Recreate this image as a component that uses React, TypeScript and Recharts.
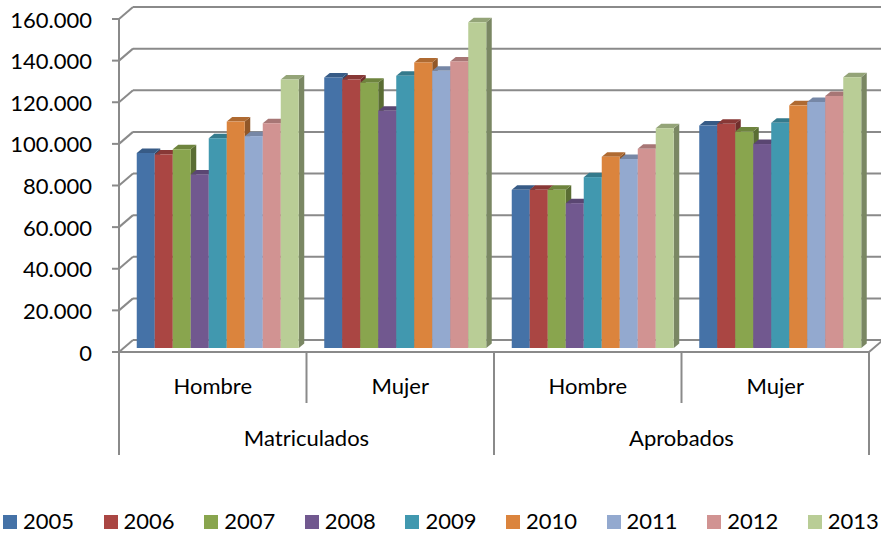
import React from 'react';
import { BarChart, Bar, XAxis, YAxis, CartesianGrid, Legend } from 'recharts';

const subCategories = ['Hombre', 'Mujer', 'Hombre', 'Mujer'];
const groupLabels = ['Matriculados', 'Aprobados'];
const years = ['2005', '2006', '2007', '2008', '2009', '2010', '2011', '2012', '2013'];

// values per year: [Matriculados Hombre, Matriculados Mujer, Aprobados Hombre, Aprobados Mujer]
const v2005 = [93700, 130000, 76000, 106900];
const v2006 = [93000, 129000, 76000, 107700];
const v2007 = [95500, 127500, 76000, 104000];
const v2008 = [83400, 114000, 69600, 98000];
const v2009 = [100800, 130800, 82100, 108200];
const v2010 = [108800, 137200, 91900, 116600];
const v2011 = [101800, 133200, 90800, 118200];
const v2012 = [108000, 137700, 95700, 121100];
const v2013 = [129000, 156500, 105600, 130100];
const seriesValues = [v2005, v2006, v2007, v2008, v2009, v2010, v2011, v2012, v2013];

const colors = ['#4572A7', '#AA4643', '#89A54E', '#71588F', '#4198AF', '#DB843D', '#93A9CF', '#D19392', '#B9CD96'];
const yTicks = [0, 20000, 40000, 60000, 80000, 100000, 120000, 140000, 160000];

const data = subCategories.map((sub, i) => {
  const row: Record<string, any> = { sub };
  years.forEach((yr, s) => {
    row[yr] = seriesValues[s][i];
  });
  return row;
});

// layout constants
const W = 881;
const H = 540;
const PLOT_LEFT = 124;
const PLOT_RIGHT = 874;
const PLOT_TOP = 15;
const PLOT_BOTTOM = 348;
const BDX = 5; // bar plane offset from front plane
const BDY = 4;
const WDX = 14; // wall depth
const WDY = 12;
const FRONT_X = PLOT_LEFT - BDX;
const FRONT_RIGHT = PLOT_RIGHT - BDX;
const FLOOR = PLOT_BOTTOM + BDY;
const BAND = (PLOT_RIGHT - PLOT_LEFT) / subCategories.length;
const GRID = '#8a8a8a';
const FONT = 'Lato, "Open Sans", sans-serif';
const FS = 22;

function shade(hex: string, f: number) {
  const n = parseInt(hex.slice(1), 16);
  const r = Math.round(((n >> 16) & 255) * f);
  const g = Math.round(((n >> 8) & 255) * f);
  const b = Math.round((n & 255) * f);
  return `rgb(${r},${g},${b})`;
}

const fmt = (v: number) => {
  if (v === 0) return '0';
  const s = String(v);
  return s.slice(0, s.length - 3) + '.' + s.slice(s.length - 3);
};

const Bar3D = (props: any) => {
  const { x, y, width, height, base } = props;
  if (!(height > 0)) return null;
  const dx = 5.5;
  const dy = 4.5;
  const top = `${x},${y} ${x + dx},${y - dy} ${x + width + dx},${y - dy} ${x + width},${y}`;
  const side = `${x + width},${y} ${x + width + dx},${y - dy} ${x + width + dx},${y + height - dy} ${x + width},${y + height}`;
  return (
    <g>
      <polygon points={side} fill={shade(base, 0.66)} />
      <polygon points={top} fill={shade(base, 0.8)} />
      <rect x={x} y={y} width={width} height={height} fill={base} />
    </g>
  );
};

const YTick = (props: any) => {
  const { y, payload } = props;
  const fy = y + BDY;
  return (
    <g>
      <line x1={FRONT_X - 7} y1={fy} x2={FRONT_X} y2={fy} stroke={GRID} strokeWidth={2} />
      <text x={92} y={fy} textAnchor="end" dominantBaseline="central" fontFamily={FONT} fontSize={FS} fill="#000">
        {fmt(payload.value)}
      </text>
    </g>
  );
};

const XTick = (props: any) => {
  const { x, payload } = props;
  const index = payload.index ?? props.index ?? 0;
  const fx = x - BDX;
  const half = BAND / 2;
  const rightLong = index % 2 === 1;
  return (
    <g>
      {index === 0 && (
        <g>
          <line x1={FRONT_X} y1={PLOT_TOP + BDY} x2={FRONT_X} y2={455} stroke={GRID} strokeWidth={2} />
          <line x1={FRONT_X - 7} y1={FLOOR} x2={FRONT_RIGHT} y2={FLOOR} stroke={GRID} strokeWidth={2} />
        </g>
      )}
      {index === subCategories.length - 1 && (
        <line x1={FRONT_RIGHT} y1={FLOOR} x2={FRONT_RIGHT + WDX} y2={FLOOR - WDY} stroke={GRID} strokeWidth={2} />
      )}
      <line x1={fx + half} y1={FLOOR} x2={fx + half} y2={rightLong ? 455 : 403} stroke={GRID} strokeWidth={2} />
      <text x={fx} y={385} textAnchor="middle" dominantBaseline="central" fontFamily={FONT} fontSize={FS} fill="#000">
        {payload.value}
      </text>
      {index % 2 === 1 && (
        <text x={fx - half} y={437} textAnchor="middle" dominantBaseline="central" fontFamily={FONT} fontSize={FS} fill="#000">
          {groupLabels[(index - 1) / 2]}
        </text>
      )}
    </g>
  );
};

const gridLine = (props: any) => {
  const { y1, key } = props;
  const fy = y1 + BDY;
  return (
    <g key={key}>
      <line x1={FRONT_X} y1={fy} x2={FRONT_X + WDX} y2={fy - WDY} stroke={GRID} strokeWidth={2} />
      <line x1={FRONT_X + WDX} y1={fy - WDY} x2={W + 5} y2={fy - WDY} stroke={GRID} strokeWidth={2} />
    </g>
  );
};

const LegendContent = () => {
  const pitch = 100.6;
  return (
    <div style={{ position: 'relative', width: W, height: 30, overflow: 'hidden', fontFamily: FONT }}>
      {years.map((yr, i) => (
        <div key={yr}>
          <div style={{ position: 'absolute', left: 3 + i * pitch, top: 10, width: 14, height: 14, background: colors[i] }} />
          <div style={{ position: 'absolute', left: 23 + i * pitch, top: 1, fontSize: FS, lineHeight: '30px', whiteSpace: 'nowrap', color: '#000' }}>
            {yr}
          </div>
        </div>
      ))}
    </div>
  );
};

export default function App() {
  return (
    <div style={{ position: 'absolute', left: 0, top: 0, width: W, height: H, background: '#fff', overflow: 'hidden' }}>
      <BarChart
        width={W}
        height={H}
        data={data}
        margin={{ top: PLOT_TOP, right: W - PLOT_RIGHT, bottom: H - PLOT_BOTTOM - 100, left: PLOT_LEFT - 100 }}
        barCategoryGap={(BAND - 18 * years.length) / 2}
        barGap={0}
      >
        <CartesianGrid vertical={false} horizontal={gridLine} />
        <YAxis
          width={100}
          domain={[0, 160000]}
          ticks={yTicks}
          interval={0}
          axisLine={false}
          tickLine={false}
          tick={<YTick />}
        />
        <XAxis
          dataKey="sub"
          height={100}
          interval={0}
          axisLine={false}
          tickLine={false}
          tick={<XTick />}
        />
        <Legend
          layout="horizontal"
          verticalAlign="middle"
          align="center"
          wrapperStyle={{ left: 0, top: 505, width: W, height: 30 }}
          content={<LegendContent />}
        />
        {years.map((yr, i) => (
          <Bar
            key={yr}
            dataKey={yr}
            fill={colors[i]}
            isAnimationActive={false}
            shape={(p: any) => <Bar3D {...p} base={colors[i]} />}
          />
        ))}
      </BarChart>
    </div>
  );
}
